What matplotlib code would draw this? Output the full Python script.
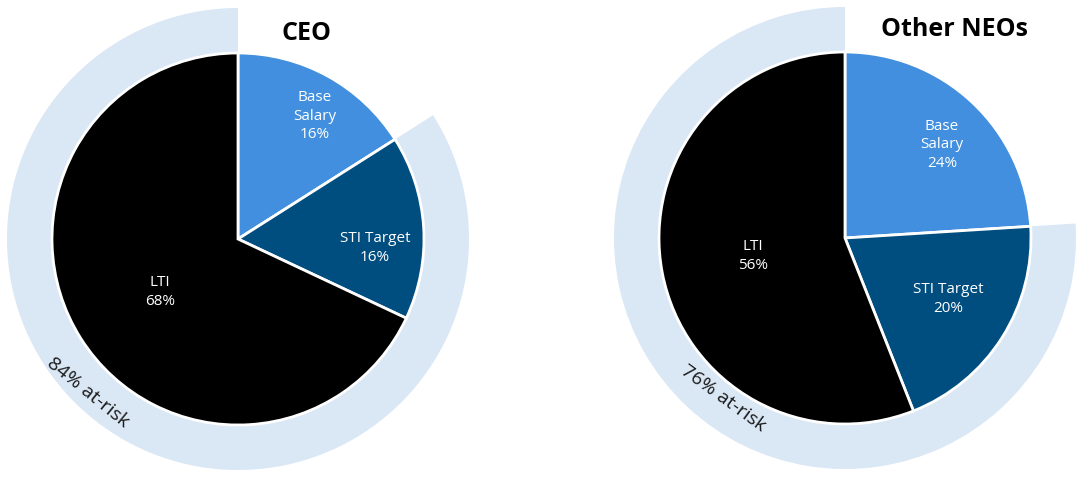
import matplotlib
matplotlib.use("Agg")
import matplotlib.pyplot as plt

# data
components = ["Base\nSalary", "STI Target", "LTI"]
ceo_pct = [16, 16, 68]
neo_pct = [24, 20, 56]
titles = ["CEO", "Other NEOs"]

colors = ["#418fde", "#004e7f", "#000000"]
ring_color = "#dae7f5"

W, H = 1084, 481
fig = plt.figure(figsize=(W / 100, H / 100), dpi=100)
ax = fig.add_axes([0, 0, 1, 1])

plt.rcParams['font.family'] = ['Open Sans', 'DejaVu Sans']

# layout per chart (image pixel coords -> y flipped)
charts = [
    dict(vals=ceo_pct, title=titles[0], cx=238, cy=240, title_xy=(306, 33),
         label_off=[(77, 124), (137, -8), (-78, -52)],
         risk_xy=(88, 393), risk_rot=-39),
    dict(vals=neo_pct, title=titles[1], cx=845, cy=239, title_xy=(954, 30),
         label_off=[(97, 94), (103, -60), (-92, -17)],
         risk_xy=(723, 398), risk_rot=-36),
]

R = 186
R_OUT = 231

for c in charts:
    center = (c["cx"], H - c["cy"])
    vals = c["vals"]
    at_risk = sum(vals[1:])
    # outer ring showing the at-risk share
    ax.pie([vals[0], at_risk], colors=["none", ring_color], radius=R_OUT,
           center=center, startangle=90, counterclock=False,
           wedgeprops=dict(width=R_OUT - R, linewidth=0))
    # main pie
    ax.pie(vals, colors=colors, radius=R, center=center, startangle=90,
           counterclock=False, wedgeprops=dict(edgecolor="white", linewidth=2))
    for name, v, (dx, dy) in zip(components, vals, c["label_off"]):
        ax.text(center[0] + dx, center[1] + dy, f"{name}\n{v}%", color="white",
                ha="center", va="center", fontsize=11, linespacing=1.35)
    ax.text(c["title_xy"][0], H - c["title_xy"][1], c["title"], ha="center",
            va="center", fontsize=18, fontweight="bold", color="black")
    ax.text(c["risk_xy"][0], H - c["risk_xy"][1], f"{at_risk}% at-risk",
            rotation=c["risk_rot"], rotation_mode="anchor", ha="center",
            va="center", fontsize=14, color="#1a1a1a")

ax.set_xlim(0, W)
ax.set_ylim(0, H)
ax.set_aspect("equal")
ax.axis("off")

fig.savefig("out.png", dpi=100)
